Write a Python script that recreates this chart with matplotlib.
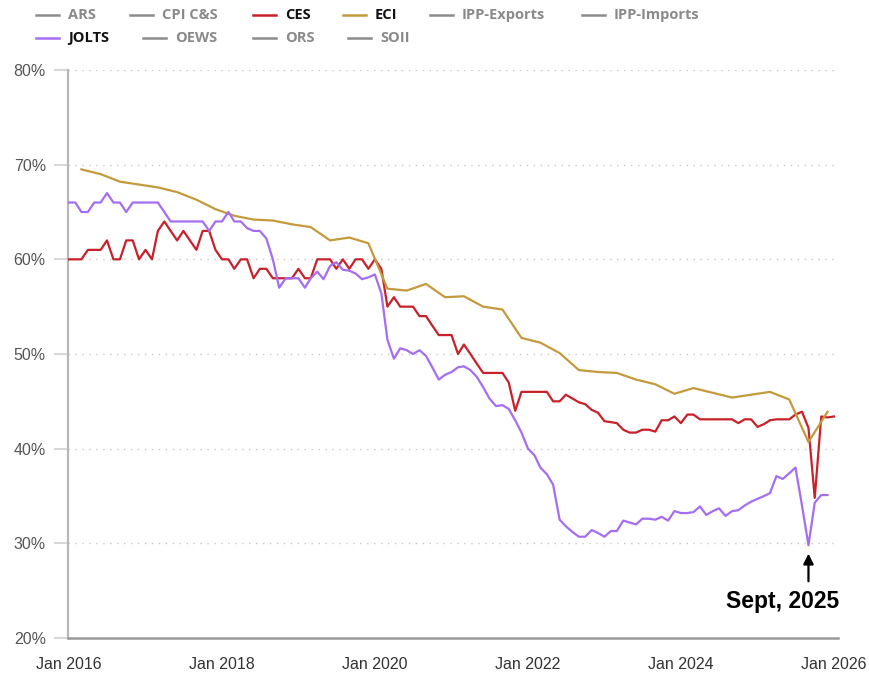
import matplotlib
matplotlib.use("Agg")
import matplotlib.pyplot as plt
from matplotlib.lines import Line2D
import pandas as pd

# ---------------- data ----------------
ces_values = [
    60, 60, 60, 61, 61, 61, 62, 60, 60, 62, 62, 60,
    61, 60, 63, 64, 63, 62, 63, 62, 61, 63, 63, 61,
    60, 60, 59, 60, 60, 58, 59, 59, 58, 58, 58, 58,
    59, 58, 58, 60, 60, 60, 59, 60, 59, 60, 60, 59,
    60, 59, 55, 56, 55, 55, 55, 54, 54, 53, 52, 52,
    52, 50, 51, 50, 49, 48, 48, 48, 48, 47, 44, 46,
    46, 46, 46, 46, 45, 45, 45.7, 45.3, 44.9, 44.7, 44.1, 43.8,
    42.9, 42.8, 42.7, 42.0, 41.7, 41.7, 42.0, 42.0, 41.8, 43.0, 43.0, 43.4,
    42.7, 43.6, 43.6, 43.1, 43.1, 43.1, 43.1, 43.1, 43.1, 42.7, 43.1, 43.1,
    42.3, 42.6, 43.0, 43.1, 43.1, 43.1, 43.6, 43.9, 42.2, 34.8, 43.4, 43.3,
    43.4,
]
jolts_values = [
    66, 66, 65, 65, 66, 66, 67, 66, 66, 65, 66, 66,
    66, 66, 66, 65, 64, 64, 64, 64, 64, 64, 63, 64,
    64, 65, 64, 64, 63.3, 63, 63, 62.2, 60, 57, 58, 58,
    58, 57, 58, 58.7, 57.9, 59.3, 59.7, 58.9, 58.8, 58.5, 57.9, 58.1,
    58.4, 56.4, 51.5, 49.5, 50.6, 50.4, 50.0, 50.4, 49.8, 48.6, 47.3, 47.8,
    48.1, 48.6, 48.7, 48.3, 47.6, 46.5, 45.3, 44.5, 44.6, 44.2, 43.0, 41.7,
    40.0, 39.3, 38.0, 37.3, 36.2, 32.5, 31.8, 31.2, 30.7, 30.7, 31.4, 31.1,
    30.7, 31.3, 31.3, 32.4, 32.2, 32.0, 32.6, 32.6, 32.5, 32.8, 32.4, 33.4,
    33.2, 33.2, 33.3, 33.9, 33.0, 33.4, 33.7, 32.9, 33.4, 33.5, 34.0, 34.4,
    34.7, 35.0, 35.3, 37.1, 36.8, 37.4, 38.0, 34.0, 29.8, 34.3, 35.1, 35.1,
]
eci_values = [
    69.5, 69.0, 68.2, 67.9, 67.6, 67.1, 66.3, 65.3, 64.6, 64.2,
    64.1, 63.7, 63.4, 62.0, 62.3, 61.7, 56.9, 56.7, 57.4, 56.0,
    56.1, 55.0, 54.7, 51.7, 51.2, 50.1, 48.3, 48.1, 48.0, 47.3,
    46.8, 45.8, 46.4, 45.9, 45.4, 45.7, 46.0, 45.2, 40.7, 43.9,
]
ces_dates = pd.date_range("2016-01-01", periods=len(ces_values), freq="MS")
jolts_dates = pd.date_range("2016-01-01", periods=len(jolts_values), freq="MS")
eci_dates = pd.date_range("2016-03-01", periods=len(eci_values), freq="3MS")

legend_row1 = ["ARS", "CPI C&S", "CES", "ECI", "IPP-Exports", "IPP-Imports"]
legend_row2 = ["JOLTS", "OEWS", "ORS", "SOII"]
y_ticks = [20, 30, 40, 50, 60, 70, 80]
x_tick_years = [2016, 2018, 2020, 2022, 2024, 2026]
annotation_text = "Sept, 2025"
annotation_date = "2025-09-01"

# ---------------- style ----------------
W, H = 869, 679
C_CES = "#c9202a"
C_ECI = "#c49a3c"
C_JOLTS = "#a46ef2"
C_GRAY = "#8c8c8c"
C_AXIS = "#b8b8b8"

fig = plt.figure(figsize=(W / 100, H / 100), dpi=100)
fig.patch.set_facecolor("white")
ax = fig.add_axes([68 / W, 1 - 638 / H, (838 - 68) / W, (638 - 70) / H])

ax.plot(ces_dates, ces_values, color=C_CES, lw=1.6, zorder=3)
ax.plot(eci_dates, eci_values, color=C_ECI, lw=1.6, zorder=4)
ax.plot(jolts_dates, jolts_values, color=C_JOLTS, lw=1.6, zorder=5)

ax.set_ylim(20, 80)
ax.set_xlim(pd.Timestamp("2015-12-28"), pd.Timestamp("2026-01-20"))
ax.set_yticks(y_ticks)
ax.set_yticklabels([f"{v}%" for v in y_ticks])
ax.set_xticks([pd.Timestamp(f"{y}-01-01") for y in x_tick_years])
ax.set_xticklabels([f"Jan {y}" for y in x_tick_years])

for v in y_ticks[1:]:
    ax.axhline(v, color="#c8c8c8", lw=1.0, ls=(0, (1, 4)), zorder=1)

for s in ["top", "right"]:
    ax.spines[s].set_visible(False)
ax.spines["left"].set_color(C_AXIS)
ax.spines["left"].set_linewidth(1.6)
ax.spines["bottom"].set_color("#999999")
ax.spines["bottom"].set_linewidth(1.8)

tick_font = ["Liberation Sans Narrow", "Liberation Sans", "DejaVu Sans"]
ax.tick_params(axis="y", length=10, width=1.2, color="#d0d0d0", pad=6,
               labelsize=11.5, labelcolor="#555555")
ax.tick_params(axis="x", length=0, pad=14, labelsize=11.5, labelcolor="#333333")
for lab in ax.get_yticklabels() + ax.get_xticklabels():
    lab.set_family(tick_font)

# annotation
ad = pd.Timestamp(annotation_date)
ax.annotate("", xy=(ad, 29.2), xytext=(ad, 25.7),
            arrowprops=dict(arrowstyle="-|>,head_length=0.6,head_width=0.3",
                            color="black", lw=1.6), zorder=6)
ax.text(pd.Timestamp("2025-05-01"), 23.9, annotation_text, ha="center", va="center",
        fontsize=16.5, fontweight="bold", color="black",
        family=["Liberation Sans Narrow", "Liberation Sans", "DejaVu Sans"])

# ---------------- legend (manual, figure coords) ----------------
def fx(px):
    return px / W

def fy(py):
    return 1 - py / H

active = {"CES": C_CES, "ECI": C_ECI, "JOLTS": C_JOLTS}
row1_x = [36, 130, 253, 343, 430, 582]
row2_x = [36, 143, 253, 348]
legend_font = ["Open Sans", "DejaVu Sans"]
for names, xs, py in [(legend_row1, row1_x, 15), (legend_row2, row2_x, 38)]:
    for name, x0 in zip(names, xs):
        col = active.get(name, C_GRAY)
        fig.add_artist(Line2D([fx(x0), fx(x0 + 23)], [fy(py), fy(py)],
                              color=col, lw=1.8, transform=fig.transFigure))
        fig.text(fx(x0 + 32), fy(py), name, ha="left", va="center",
                 fontsize=10.5, fontweight="bold",
                 color="#111111" if name in active else "#8a8a8a",
                 family=legend_font)

fig.savefig("out.png", dpi=100, facecolor="white")
